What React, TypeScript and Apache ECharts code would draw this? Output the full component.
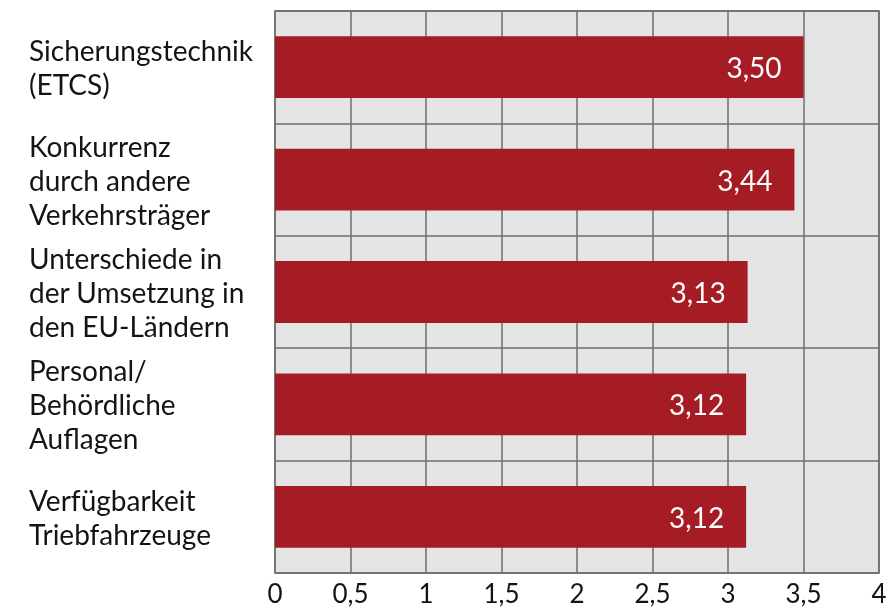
import React, { useEffect, useRef } from "react";
import * as echarts from "echarts";

const categories: string[] = [
  "Sicherungstechnik\n(ETCS)",
  "Konkurrenz\ndurch andere\nVerkehrsträger",
  "Unterschiede in\nder Umsetzung in\nden EU-Ländern",
  "Personal/\nBehördliche\nAuflagen",
  "Verfügbarkeit\nTriebfahrzeuge",
];
const values: number[] = [3.5, 3.44, 3.13, 3.12, 3.12];
const xMin = 0;
const xMax = 4;
const xInterval = 0.5;

const FONT = "Lato, 'Open Sans', sans-serif";

export default function App() {
  const ref = useRef<HTMLDivElement>(null);
  useEffect(() => {
    if (!ref.current) return;
    const chart = echarts.init(ref.current, undefined, { renderer: "svg" });
    chart.setOption({
      animation: false,
      grid: {
        left: 275,
        right: 12,
        top: 11,
        bottom: 35,
        show: true,
        backgroundColor: "#e4e4e4",
        borderColor: "#6e6e6e",
        borderWidth: 1.5,
      },
      xAxis: {
        type: "value",
        min: xMin,
        max: xMax,
        interval: xInterval,
        axisLine: { show: false },
        axisTick: { show: false },
        splitLine: { show: true, lineStyle: { color: "#6e6e6e", width: 1.5 } },
        axisLabel: {
          color: "#141414",
          fontFamily: FONT,
          fontSize: 26,
          lineHeight: 22,
          margin: 9,
          formatter: (v: number) => String(v).replace(".", ","),
        },
      },
      yAxis: {
        type: "category",
        inverse: true,
        data: categories,
        axisLine: { show: false },
        axisTick: { show: false },
        splitLine: { show: true, lineStyle: { color: "#6e6e6e", width: 1.5 } },
        axisLabel: {
          color: "#141414",
          fontFamily: FONT,
          fontSize: 28,
          lineHeight: 34,
          align: "left",
          margin: 246,
        },
      },
      series: [
        {
          type: "bar",
          data: values,
          barWidth: "55%",
          itemStyle: { color: "#a51c24" },
          label: {
            show: true,
            position: "insideRight",
            distance: 22,
            color: "#ffffff",
            fontFamily: FONT,
            fontSize: 28,
            formatter: (p: any) => p.value.toFixed(2).replace(".", ","),
          },
        },
      ],
    });
    return () => chart.dispose();
  }, []);
  return (
    <div
      ref={ref}
      style={{ position: "fixed", left: 0, top: 0, width: 891, height: 608 }}
    />
  );
}
